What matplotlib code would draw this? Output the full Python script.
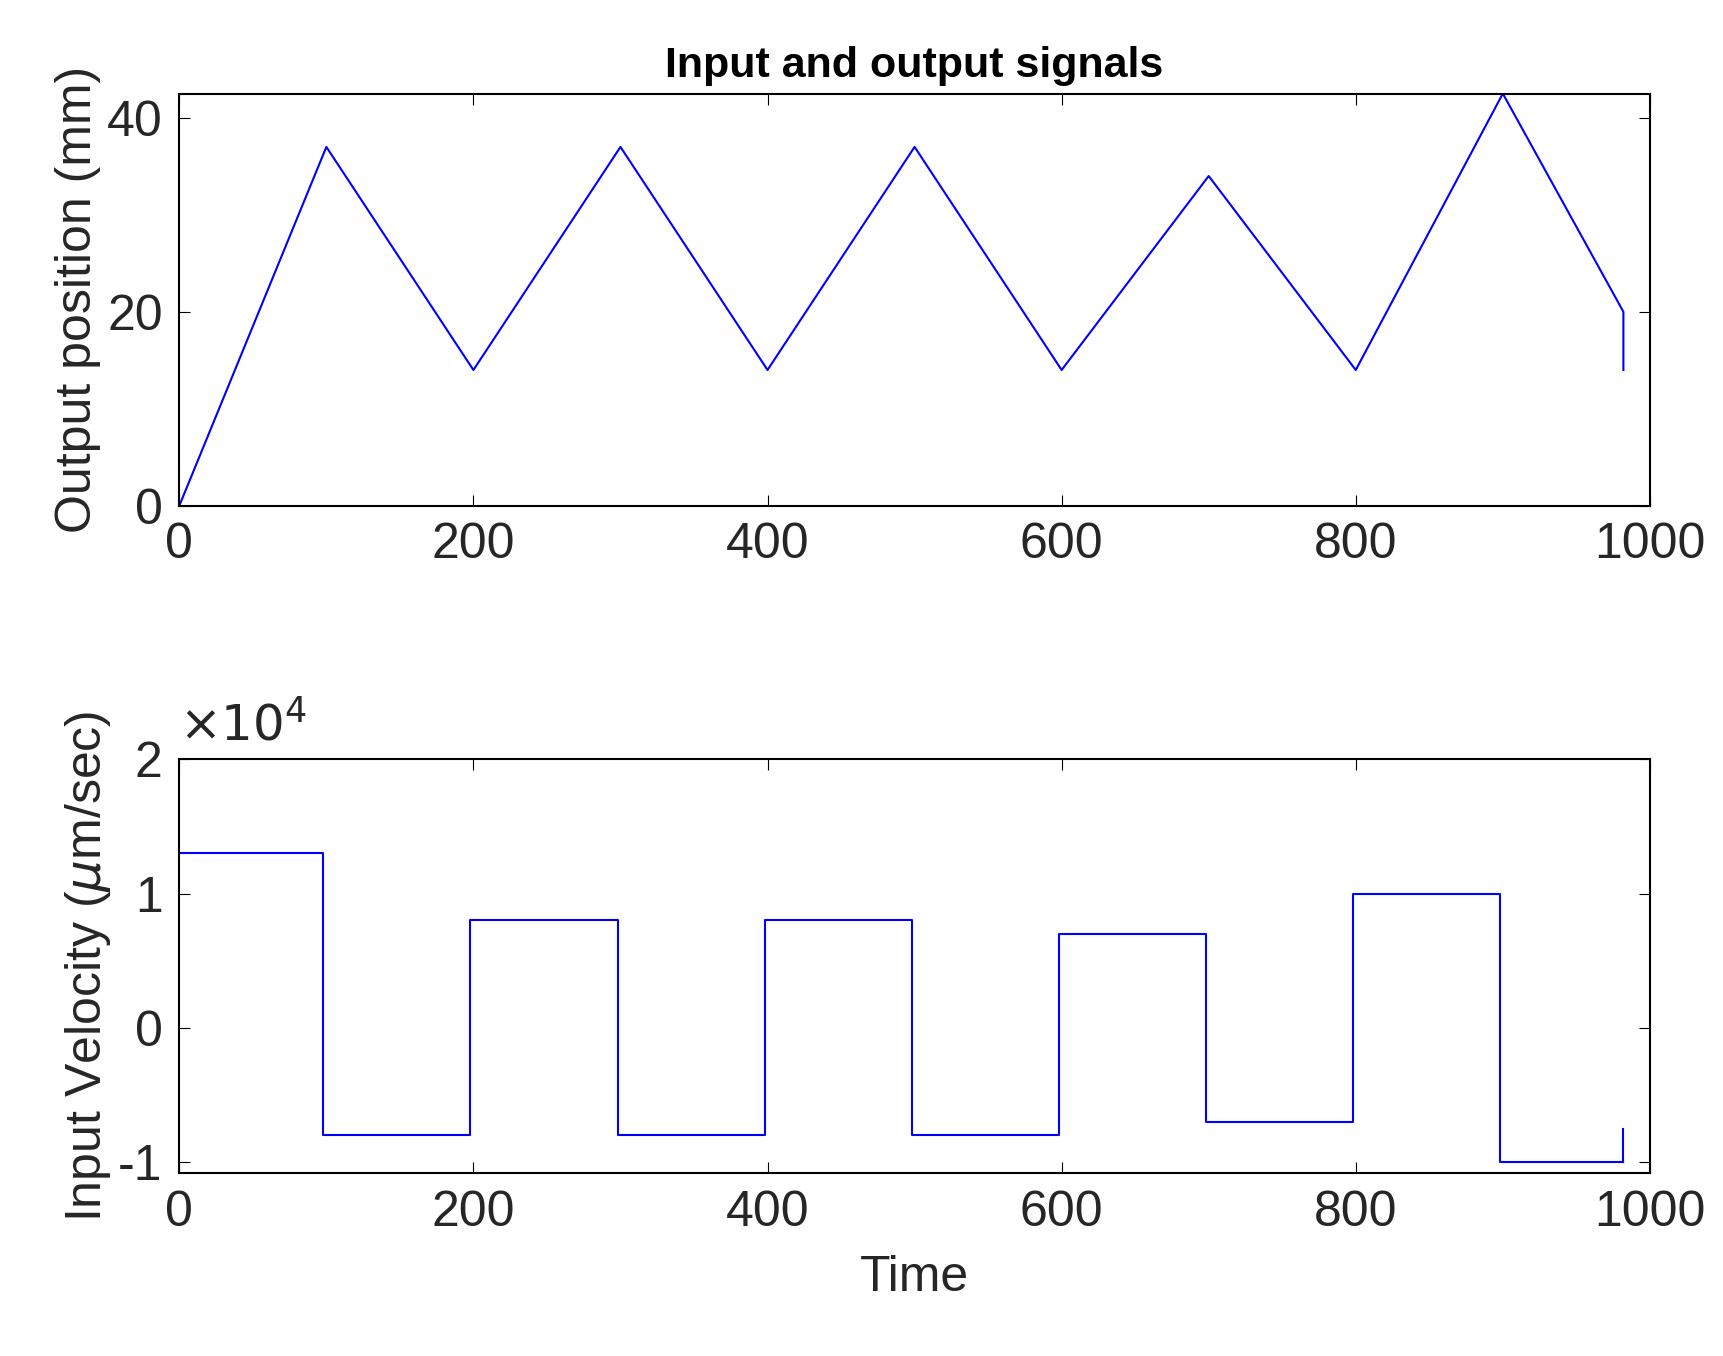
import matplotlib
matplotlib.use("Agg")
import matplotlib.pyplot as plt
import numpy as np

plt.rcParams['font.family'] = ['Liberation Sans', 'DejaVu Sans']
plt.rcParams['mathtext.fontset'] = 'dejavusans'

pos_t = [0, 100, 200, 300, 400, 500, 600, 700, 800, 900, 982, 982]
pos_y = [0, 37, 14, 37, 14, 37, 14, 34, 14, 42.5, 20, 14]

vel_edges = [0, 98, 198, 298, 398, 498, 598, 698, 798, 898, 982]
vel_vals = [1.3, -0.8, 0.8, -0.8, 0.8, -0.8, 0.7, -0.7, 1.0, -1.0]  # x1e4

fig = plt.figure(figsize=(17.24, 13.56), dpi=100)
ax1 = fig.add_axes([0.104, 0.627, 0.853, 0.304])
ax2 = fig.add_axes([0.104, 0.135, 0.853, 0.305])
blue = '#0000ff'
fs = 36
tc = '#262626'

ax1.plot(pos_t, pos_y, color=blue, lw=1.5)
ax1.set_xlim(0, 1000)
ax1.set_ylim(0, 42.5)
ax1.set_yticks([0, 20, 40])
ax1.set_xticks(range(0, 1001, 200))
ax1.set_ylabel('Output position (mm)', fontsize=fs, color=tc)
ax1.set_title('Input and output signals', fontsize=31, fontweight='bold', color='black', pad=12)

ts = np.array(vel_edges)
vs = np.array(vel_vals + [vel_vals[-1]]) * 1e4
ax2.step(ts, vs, where='post', color=blue, lw=1.5)
ax2.plot([982, 982], [-1.0e4, -0.75e4], color=blue, lw=1.5)
ax2.set_xlim(0, 1000)
ax2.set_ylim(-1.08e4, 2e4)
ax2.set_yticks([-1e4, 0, 1e4, 2e4])
ax2.set_yticklabels(['-1', '0', '1', '2'])
ax2.set_xticks(range(0, 1001, 200))
ax2.set_xlabel('Time', fontsize=fs, color=tc, labelpad=14)
ax2.set_ylabel(r'Input Velocity ($\mu$m/sec)', fontsize=fs, color=tc)
ax2.text(0, 1.02, r'$\times10^4$', transform=ax2.transAxes, fontsize=fs, va='bottom', ha='left', color=tc)

for ax in (ax1, ax2):
    ax.tick_params(labelsize=fs, direction='in', length=8, top=True, right=True, pad=12, labelcolor=tc)
    for s in ax.spines.values():
        s.set_linewidth(1.5)

fig.savefig('out.png', dpi=100, facecolor='white')
